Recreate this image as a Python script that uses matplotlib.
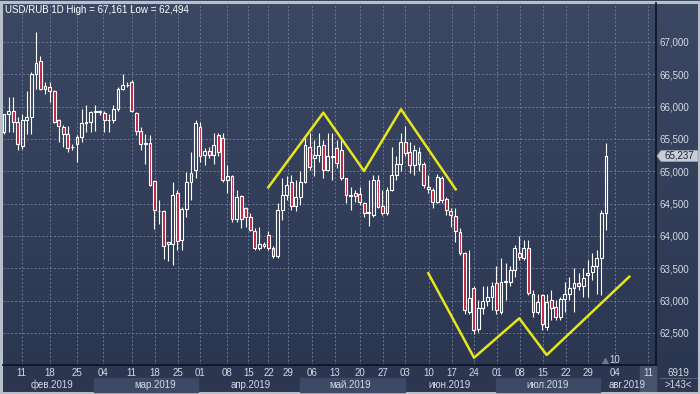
import numpy as np
import matplotlib.pyplot as plt
from matplotlib.patches import Rectangle, Polygon
from matplotlib.transforms import blended_transform_factory

plt.rcParams['font.family'] = ['Liberation Sans', 'DejaVu Sans']

# Дневные свечи USD/RUB (фев. - авг. 2019)
opens = [65.61, 65.88, 65.94, 65.76, 65.39, 65.80, 65.84, 66.51, 66.70, 66.28,
         66.31, 66.24, 65.79, 65.69, 65.57, 65.37, 65.43, 65.53, 65.74, 65.77,
         65.92, 65.92, 65.90, 65.79, 65.79, 65.97, 66.27, 66.33, 66.38, 65.90,
         65.62, 65.44, 65.44, 64.85, 64.38, 64.38, 63.87, 63.87, 64.67, 63.94,
         64.41, 64.84, 65.02, 65.68, 65.26, 65.32, 65.25, 65.56, 65.52, 64.87,
         64.93, 64.27, 64.62, 64.43, 64.30, 64.08, 63.81, 63.85, 64.02, 63.81,
         63.69, 64.40, 64.64, 64.84, 64.46, 64.61, 64.84, 65.38, 65.20, 65.25,
         65.41, 65.02, 65.22, 65.36, 65.33, 64.89, 64.62, 64.66, 64.65, 64.51,
         64.37, 64.33, 64.87, 64.46, 64.35, 64.71, 64.94, 65.12, 65.46, 65.30,
         65.10, 65.30, 65.12, 64.72, 64.71, 64.53, 64.89, 64.57, 64.39, 64.31,
         64.06, 63.73, 62.82, 63.19, 62.56, 62.88, 63.00, 63.06, 63.27, 62.83,
         63.29, 63.29, 63.47, 63.73, 63.66, 63.81, 63.11, 62.83, 63.09, 62.60,
         63.01, 62.90, 62.75, 63.02, 63.10, 63.19, 63.27, 63.23, 63.40, 63.44,
         63.53, 63.66, 64.35]
highs = [65.89, 66.15, 66.15, 65.84, 65.89, 66.24, 66.54, 67.16, 66.78, 66.38,
         66.38, 66.25, 65.81, 65.71, 65.70, 65.43, 65.56, 65.97, 66.02, 65.94,
         66.02, 65.95, 65.94, 65.89, 66.02, 66.30, 66.50, 66.38, 66.41, 65.92,
         65.69, 65.58, 65.56, 64.86, 64.55, 64.40, 63.90, 64.83, 64.71, 64.45,
         64.99, 65.30, 65.79, 65.76, 65.36, 65.38, 65.59, 65.59, 65.59, 65.10,
         64.94, 64.71, 64.63, 64.45, 64.35, 64.12, 64.14, 63.91, 64.07, 63.84,
         64.51, 64.89, 64.92, 64.94, 64.87, 65.00, 65.54, 65.59, 65.49, 65.59,
         65.49, 65.59, 65.59, 65.49, 65.49, 64.90, 64.76, 64.71, 64.76, 64.53,
         64.87, 64.94, 64.94, 64.71, 64.76, 65.38, 65.23, 65.59, 65.70, 65.46,
         65.41, 65.38, 65.15, 64.94, 64.74, 64.96, 64.93, 64.61, 64.43, 64.43,
         64.12, 63.76, 63.78, 63.22, 63.01, 63.22, 63.22, 63.29, 63.53, 63.66,
         63.58, 63.53, 63.86, 64.00, 63.94, 63.94, 63.17, 63.11, 63.11, 63.11,
         63.17, 63.01, 63.06, 63.29, 63.37, 63.50, 63.42, 63.50, 63.63, 63.73,
         63.78, 64.40, 65.44]
lows = [65.58, 65.61, 65.61, 65.33, 65.35, 65.58, 65.58, 66.28, 66.25, 66.20,
        66.07, 65.74, 65.45, 65.38, 65.30, 65.33, 65.14, 65.45, 65.61, 65.61,
        65.63, 65.87, 65.61, 65.61, 65.74, 65.94, 66.25, 66.30, 65.92, 65.56,
        65.33, 65.12, 64.78, 64.11, 64.19, 63.65, 63.62, 63.55, 63.78, 63.78,
        64.29, 64.55, 64.89, 65.14, 65.10, 65.20, 65.12, 65.23, 64.84, 64.66,
        64.22, 64.22, 64.12, 64.14, 64.07, 63.78, 63.78, 63.81, 63.78, 63.66,
        63.66, 64.25, 64.56, 64.40, 64.38, 64.48, 64.82, 65.02, 64.92, 65.15,
        64.89, 65.00, 64.87, 65.05, 64.87, 64.51, 64.40, 64.53, 64.48, 64.30,
        64.15, 64.30, 64.43, 64.33, 64.33, 64.69, 64.87, 65.00, 65.23, 64.97,
        64.94, 65.00, 64.74, 64.66, 64.43, 64.51, 64.51, 64.33, 64.14, 63.91,
        63.71, 62.80, 62.80, 62.49, 62.51, 62.80, 62.91, 62.86, 62.80, 62.80,
        63.01, 63.22, 63.37, 63.63, 63.63, 63.09, 62.75, 62.80, 62.55, 62.55,
        62.70, 62.70, 62.70, 62.83, 63.01, 62.83, 63.17, 63.06, 63.06, 63.32,
        63.11, 63.09, 64.09]
closes = [65.88, 65.94, 65.76, 65.43, 65.80, 65.84, 66.51, 66.68, 66.28, 66.32,
          66.24, 65.76, 65.70, 65.57, 65.36, 65.38, 65.53, 65.74, 65.77, 65.92,
          65.93, 65.93, 65.79, 65.80, 65.97, 66.27, 66.33, 66.34, 65.93, 65.62,
          65.43, 65.43, 64.79, 64.40, 64.39, 63.85, 63.90, 64.64, 63.93, 64.41,
          64.84, 64.98, 65.75, 65.23, 65.32, 65.25, 65.41, 65.30, 64.87, 64.93,
          64.27, 64.61, 64.27, 64.30, 64.09, 63.81, 63.87, 63.87, 63.81, 63.69,
          64.40, 64.64, 64.79, 64.46, 64.61, 64.84, 65.41, 65.07, 65.25, 65.39,
          65.02, 65.23, 65.23, 65.13, 64.89, 64.63, 64.62, 64.62, 64.53, 64.36,
          64.35, 64.87, 64.45, 64.35, 64.71, 64.94, 65.12, 65.46, 65.28, 65.10,
          65.33, 65.12, 64.79, 64.75, 64.53, 64.91, 64.56, 64.40, 64.33, 64.07,
          63.73, 62.86, 63.04, 62.55, 62.88, 63.00, 63.06, 63.22, 62.86, 63.29,
          63.30, 63.47, 63.81, 63.68, 63.81, 63.12, 62.83, 62.98, 62.64, 62.98,
          62.88, 62.75, 63.02, 63.11, 63.19, 63.27, 63.23, 63.35, 63.43, 63.53,
          63.66, 64.36, 65.237]

# подписи оси X (номер свечи -> число месяца)
day_ticks = [3.9, 10.1, 15.9, 21.8, 28.0, 33.1, 38.2, 43.0, 48.8, 53.6, 58.0, 62.3,
             67.5, 72.6, 78.1, 83.1, 87.9, 93.2, 98.2, 103.1, 108.1, 113.2, 118.2,
             123.2, 128.1, 134.0, 141.2]
day_labels = ['11', '18', '25', '04', '11', '18', '25', '01', '08', '15', '22', '29',
              '06', '13', '20', '27', '03', '10', '17', '24', '01', '08', '15',
              '22', '29', '04', '11']
month_pos = [10.5, 33.1, 54.0, 75.9, 97.8, 119.3, 136.6]
month_labels = ['фев.2019', 'мар.2019', 'апр.2019', 'май.2019', 'июн.2019',
                'июл.2019', 'авг.2019']
month_bands = [(19.7, 42.5), (64.9, 87.9), (107.9, 130.7)]
price_ticks = [62.5, 63.0, 63.5, 64.0, 64.5, 65.0, 65.5, 66.0, 66.5, 67.0]

# фигуры "двойная вершина" и "двойное дно"
top_x = [57.96, 70.02, 78.95, 87.06, 99.06]
top_y = [64.753, 65.907, 65.005, 65.959, 64.722]
bottom_x = [93.05, 103.07, 113.0, 119.01, 137.13]
bottom_y = [63.423, 62.118, 62.727, 62.16, 63.371]

W, H = 700, 394
fig = plt.figure(figsize=(7, 3.94), dpi=100)

# фон с градиентом на всю картинку
bg = fig.add_axes([0, 0, 1, 1], zorder=-5)
grad = np.linspace(0, 1, 256).reshape(-1, 1)
c_top = np.array([60, 72, 99]) / 255
c_bot = np.array([42, 53, 80]) / 255
img = c_top[None, None, :] * (1 - grad[:, :, None]) + c_bot[None, None, :] * grad[:, :, None]
bg.imshow(img, aspect='auto', extent=[0, 1, 0, 1])
bg.add_patch(Rectangle((0, 0), 1, 29 / H, color='#2c3651'))
bg.add_patch(Rectangle((640 / W, 2 / H), 16 / W, 27 / H, color='#47536d'))
bg.plot([660 / W, 697 / W], [1 - 378 / H, 1 - 378 / H], color='#56627c', lw=0.8)
bg.add_patch(Rectangle((0.002, 0.003), 0.996, 0.993, fill=False, ec='#b7bfcb', lw=2.2))
bg.set_xlim(0, 1)
bg.set_ylim(0, 1)
bg.axis('off')

ax = fig.add_axes([3 / W, 29 / H, 653 / W, 362 / H])
ax.set_facecolor('none')
x = np.arange(len(closes))
o = np.array(opens)
c = np.array(closes)
hi = np.array(highs)
lo = np.array(lows)
body_top = np.maximum(o, c)
body_bot = np.minimum(o, c)

ax.vlines(x, body_top, hi, color='white', lw=0.8, zorder=3)
ax.vlines(x, lo, body_bot, color='white', lw=0.8, zorder=3)
fills = ['#c0203c' if cc < oo else 'none' for oo, cc in zip(o, c)]
ax.bar(x, np.maximum(body_top - body_bot, 0.01), bottom=body_bot, width=0.62,
       color=fills, edgecolor='white', linewidth=0.8, zorder=4)

ax.plot(top_x, top_y, color='#e6e61c', lw=1.8, zorder=5)
ax.plot(bottom_x, bottom_y, color='#e6e61c', lw=1.8, zorder=5, clip_on=False)

ax.set_xlim(-0.22, 142.98)
ax.set_ylim(62.005, 67.603)

ax.set_xticks(day_ticks, day_labels)
ax.set_yticks(price_ticks, [f'{p:.3f}'.replace('.', ',') for p in price_ticks])
ax.yaxis.tick_right()
ax.tick_params(axis='both', length=0, labelsize=7, labelcolor='#d3d9e4')
ax.tick_params(axis='x', pad=2.5)
ax.tick_params(axis='y', pad=2.5)
ax.grid(True, color='#6b7794', ls=(0, (2, 2)), lw=0.7)
ax.set_axisbelow(True)
for s in ['top', 'left']:
    ax.spines[s].set_visible(False)
for s in ['bottom', 'right']:
    ax.spines[s].set_color('#0e1322')
    ax.spines[s].set_linewidth(1.2)

tr = blended_transform_factory(ax.transData, ax.transAxes)
for x0, x1 in month_bands:
    ax.add_patch(Rectangle((x0, -0.0746), x1 - x0, 0.0387, transform=tr,
                           color='#3d4965', clip_on=False, zorder=1))
for xp, lab in zip(month_pos, month_labels):
    ax.text(xp, -0.054, lab, transform=tr, ha='center', va='center',
            fontsize=7, color='#d3d9e4')

ax.text(0.003, 0.982, 'USD/RUB 1D High = 67,161 Low = 62,494', transform=ax.transAxes,
        ha='left', va='center', fontsize=7, color='white')

# ярлык последней цены
last = closes[-1]
tr2 = blended_transform_factory(ax.transAxes, ax.transData)
dy = 0.085
ax.add_patch(Polygon([(1.0015, last), (1.0077, last + dy), (1.0643, last + dy),
                      (1.0643, last - dy), (1.0077, last - dy)], closed=True,
                     transform=tr2, fc='#c9cdd6', ec='#98a0ae', lw=0.6, clip_on=False, zorder=6))
ax.text(1.036, last, f'{last:.3f}'.replace('.', ','), transform=tr2, ha='center',
        va='center', fontsize=7, color='#1c2230', zorder=7)

ax.text(134.0, 62.09, '10', ha='center', va='center', fontsize=7, color='#d3d9e4')
ax.plot([131.7], [62.07], marker='^', ms=4, color='#6f7a90', ls='none', clip_on=False)

fig.text(678 / W, 1 - 372.7 / H, '6919', ha='center', va='center', fontsize=7, color='#d3d9e4')
fig.text(678 / W, 1 - 385 / H, '>143<', ha='center', va='center', fontsize=7, color='#d3d9e4')

fig.savefig('out.png', dpi=100, facecolor='#2f3a56')
